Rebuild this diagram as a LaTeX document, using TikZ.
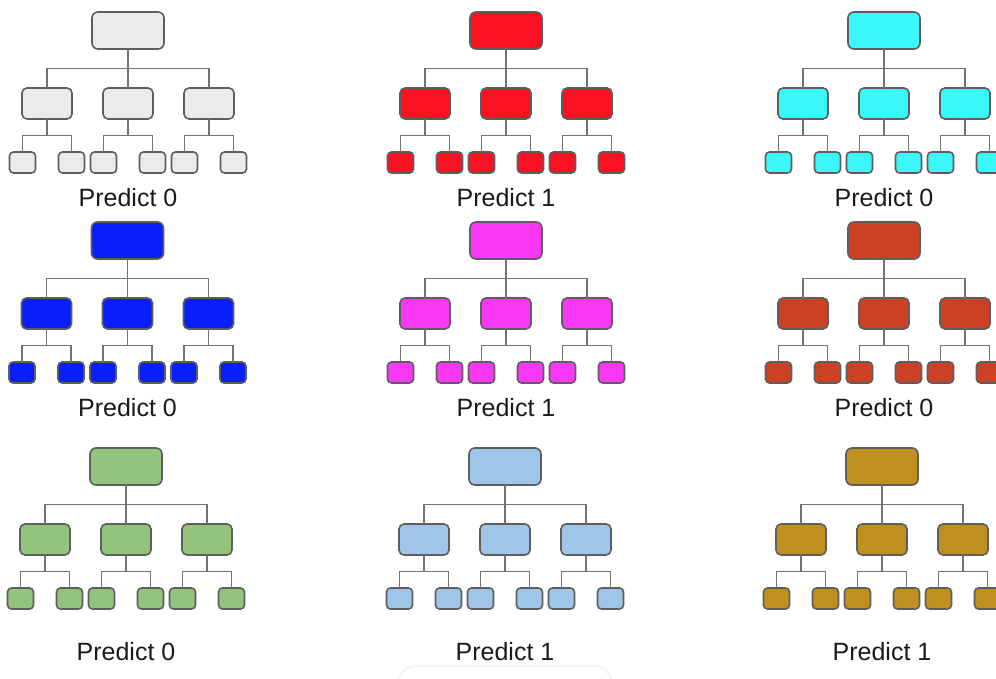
\documentclass[tikz,border=0pt]{standalone}
\usepackage{fontspec}
\setmainfont{Liberation Sans}
\usetikzlibrary{calc}

\definecolor{boxline}{HTML}{5E5E5E}
\definecolor{linkgray}{HTML}{727272}
\definecolor{labelink}{HTML}{1A1A1A}
\definecolor{fgray}{HTML}{EBEBEB}
\definecolor{fred}{HTML}{FA1122}
\definecolor{fcyan}{HTML}{3AF8F8}
\definecolor{fblue}{HTML}{0A1EFA}
\definecolor{fmagenta}{HTML}{F838F5}
\definecolor{fberry}{HTML}{CC4125}
\definecolor{fgreen}{HTML}{93C47D}
\definecolor{fsky}{HTML}{9FC5E8}
\definecolor{fgold}{HTML}{BF9020}

\tikzset{
  box/.style={draw=boxline, line width=1.6pt, inner sep=0pt, outer sep=0pt},
  rootbox/.style={box, minimum width=72pt, minimum height=37pt, rounded corners=6pt},
  midbox/.style={box, minimum width=50pt, minimum height=31pt, rounded corners=5pt},
  leafbox/.style={box, minimum width=26pt, minimum height=21pt, rounded corners=4pt},
  link/.style={draw=linkgray, line width=1.7pt},
  verdict/.style={font=\fontsize{25}{30}\selectfont, text=labelink, anchor=base, inner sep=0pt},
}

% one decision tree: #1 name, #2 centre x, #3 top y, #4 fill, #5 label, #6 label baseline
\newcommand\dtree[6]{%
  \node[rootbox, fill=#4] (#1r) at (#2, #3+18.5) {};
  \foreach \k/\dx in {1/-81, 2/0, 3/81} {
    \node[midbox, fill=#4] (#1m\k) at (#2+\dx, #3+91.5) {};
    \node[leafbox, fill=#4] (#1-\k-1) at (#2+\dx-24.5, #3+150.5) {};
    \node[leafbox, fill=#4] (#1-\k-2) at (#2+\dx+24.5, #3+150.5) {};
    \coordinate (#1j\k) at ($(#1m\k.south)!0.5!(#1m\k.south |- #1-\k-1.north)$);
    \draw[link] (#1m\k.south) -- (#1j\k);
    \draw[link] (#1-\k-1.north) |- (#1j\k) -| (#1-\k-2.north);
  }
  \coordinate (#1j) at ($(#1r.south)!0.5!(#1m2.north)$);
  \draw[link] (#1r.south) -- (#1m2.north);
  \draw[link] (#1m1.north) |- (#1j) -| (#1m3.north);
  \node[verdict] (#1t) at (#2, #6) {#5};
}

\begin{document}
\begin{tikzpicture}[x=1pt, y=-1pt]
  \useasboundingbox (0,0) rectangle (996,679);
  \clip (0,0) rectangle (996,679);
  \fill[white] (0,0) rectangle (996,679);

  % top row
  \dtree{A}{128}{12}{fgray}{Predict 0}{207}
  \dtree{B}{506}{12}{fred}{Predict 1}{207}
  \dtree{C}{884}{12}{fcyan}{Predict 0}{207}
  % middle row
  \dtree{D}{127.5}{222}{fblue}{Predict 0}{416}
  \dtree{E}{506}{222}{fmagenta}{Predict 1}{416}
  \dtree{F}{884}{222}{fberry}{Predict 0}{416}
  % bottom row
  \dtree{G}{126}{448}{fgreen}{Predict 0}{660}
  \dtree{H}{505}{448}{fsky}{Predict 1}{660}
  \dtree{I}{882}{448}{fgold}{Predict 1}{660}

  % faint outline along the lower edge
  \draw[black!4, line width=2.5pt, rounded corners=18pt] (398,700) -- (398,666) -- (612,666) -- (612,700);
\end{tikzpicture}
\end{document}
